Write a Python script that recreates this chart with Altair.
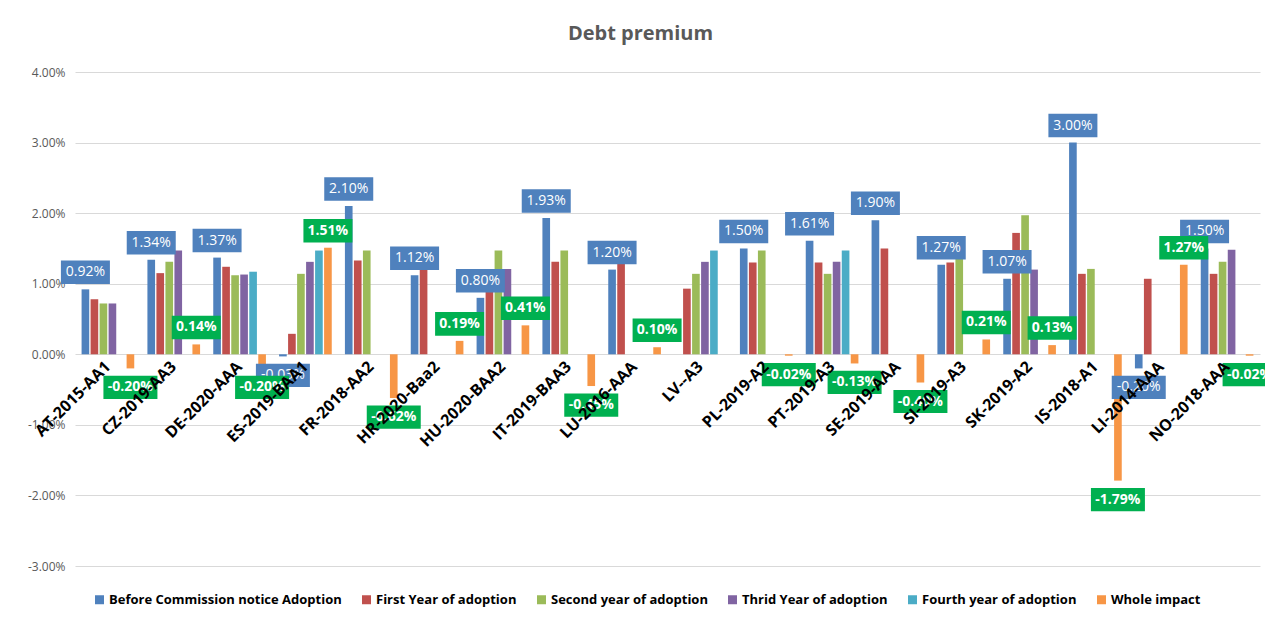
import altair as alt
import pandas as pd

categories = ["AT-2015-AA1", "CZ-2019-AA3", "DE-2020-AAA", "ES-2019-BAA1", "FR-2018-AA2",
              "HR-2020-Baa2", "HU-2020-BAA2", "IT-2019-BAA3", "LU-2016-AAA", "LV--A3",
              "PL-2019-A2", "PT-2019-A3", "SE-2019-AAA", "SI-2019-A3", "SK-2019-A2",
              "IS-2018-A1", "LI-2014-AAA", "NO-2018-AAA"]

series_names = ["Before Commission notice Adoption", "First Year of adoption",
                "Second year of adoption", "Thrid Year of adoption",
                "Fourth year of adoption", "Whole impact"]
series_colors = ["#4F81BD", "#C0504D", "#9BBB59", "#8064A2", "#4BACC6", "#F79646"]

# values in percent
before = [0.92, 1.34, 1.37, -0.03, 2.10, 1.12, 0.80, 1.93, 1.20, None, 1.50, 1.61, 1.90, 1.27, 1.07, 3.00, -0.20, 1.50]
first = [0.78, 1.15, 1.24, 0.29, 1.33, 1.20, 1.15, 1.31, 1.30, 0.93, 1.30, 1.30, 1.50, 1.30, 1.72, 1.14, 1.07, 1.14]
second = [0.72, 1.31, 1.12, 1.14, 1.47, None, 1.47, 1.47, None, 1.14, 1.47, 1.14, None, 1.47, 1.97, 1.21, None, 1.31]
third = [0.72, 1.47, 1.13, 1.31, None, None, 1.21, None, None, 1.31, None, 1.31, None, None, 1.20, None, None, 1.48]
fourth = [None, None, 1.17, 1.47, None, None, None, None, None, 1.47, None, 1.47, None, None, None, None, None, None]
whole = [-0.20, 0.14, -0.20, 1.51, -0.62, 0.19, 0.41, -0.45, 0.10, None, -0.02, -0.13, -0.40, 0.21, 0.13, -1.79, 1.27, -0.02]

y_ticks = [-0.03, -0.02, -0.01, 0.0, 0.01, 0.02, 0.03, 0.04]

rows = []
for name, vals in zip(series_names, [before, first, second, third, fourth, whole]):
    for c, v in zip(categories, vals):
        if v is not None:
            rows.append({"cat": c, "series": name, "v": v / 100.0})
df = pd.DataFrame(rows)
cat_df = pd.DataFrame({"cat": categories})

FONT = "Open Sans"

x_enc = alt.X("cat:N", sort=categories, axis=None,
              scale=alt.Scale(domain=categories, paddingInner=0.2, paddingOuter=0.1))
xoff_enc = alt.XOffset("series:N", sort=series_names,
                       scale=alt.Scale(domain=series_names, paddingInner=0.15))
y_enc = alt.Y("v:Q",
              scale=alt.Scale(domain=[-0.03, 0.04], nice=False, zero=False),
              axis=alt.Axis(values=y_ticks, format=".2%",
                            labelExpr="replace(datum.label, '\u2212', '-')",
                            title=None, grid=True, gridColor="#D9D9D9", gridWidth=1,
                            domain=False, ticks=False, labelPadding=10,
                            labelFont=FONT, labelFontSize=12, labelColor="#595959"))

bars = alt.Chart(df).mark_bar().encode(
    x=x_enc,
    xOffset=xoff_enc,
    y=y_enc,
    color=alt.Color("series:N", sort=series_names,
                    scale=alt.Scale(domain=series_names, range=series_colors),
                    legend=alt.Legend(title=None, orient="none", legendX=18, legendY=521,
                                      direction="horizontal", symbolType="square",
                                      symbolSize=81, symbolStrokeWidth=0,
                                      labelFont=FONT, labelFontSize=13,
                                      labelFontWeight="bold", labelLimit=400,
                                      labelColor="#000000", columnPadding=18,
                                      labelOffset=3)),
)

label_base = alt.Chart(df).transform_calculate(
    label="replace(format(datum.v, '.2%'), '\u2212', '-')"
)


def label_layers(series, positive, box_color, bold):
    cond = "datum.v >= 0" if positive else "datum.v < 0"
    off = -17 if positive else 19
    shape = "M-1,-0.48H1V0.48H-1Z" if positive else "M-1,-0.43H1V0.43H-1Z"
    size = 2401 if positive else 2916
    base = label_base.transform_filter(alt.datum.series == series).transform_filter(cond)
    box = base.mark_point(shape=shape, size=size, filled=True, opacity=1,
                          color=box_color, strokeWidth=0, yOffset=off).encode(
        x=x_enc, xOffset=xoff_enc, y=alt.Y("v:Q"))
    txt = base.mark_text(font=FONT, fontSize=14, fontWeight="bold" if bold else "normal",
                         color="white", align="center", baseline="middle",
                         yOffset=off).encode(
        x=x_enc, xOffset=xoff_enc, y=alt.Y("v:Q"), text="label:N")
    return [box, txt]


layers = [bars]
layers += label_layers(series_names[0], True, "#4F81BD", False)
layers += label_layers(series_names[0], False, "#4F81BD", False)
layers += label_layers(series_names[5], True, "#00B050", True)
layers += label_layers(series_names[5], False, "#00B050", True)

cat_labels = alt.Chart(cat_df).mark_text(
    font=FONT, fontSize=16, fontWeight="bold", color="#000000",
    angle=315, align="right", baseline="middle", yOffset=10
).encode(x=x_enc, y=alt.datum(0), text="cat:N")
layers.append(cat_labels)

chart = alt.layer(*layers).properties(
    width=1185, height=494,
    autosize=alt.AutoSizeParams(type="none"),
    padding={"left": 67, "top": 64, "right": 5, "bottom": 50},
    title=alt.TitleParams("Debt premium", font=FONT, fontSize=20, fontWeight="bold",
                          color="#595959", anchor="middle", dx=-27, offset=22),
).configure_view(stroke=None)

chart.save("out.html", embed_options={"renderer": "svg", "actions": False})
